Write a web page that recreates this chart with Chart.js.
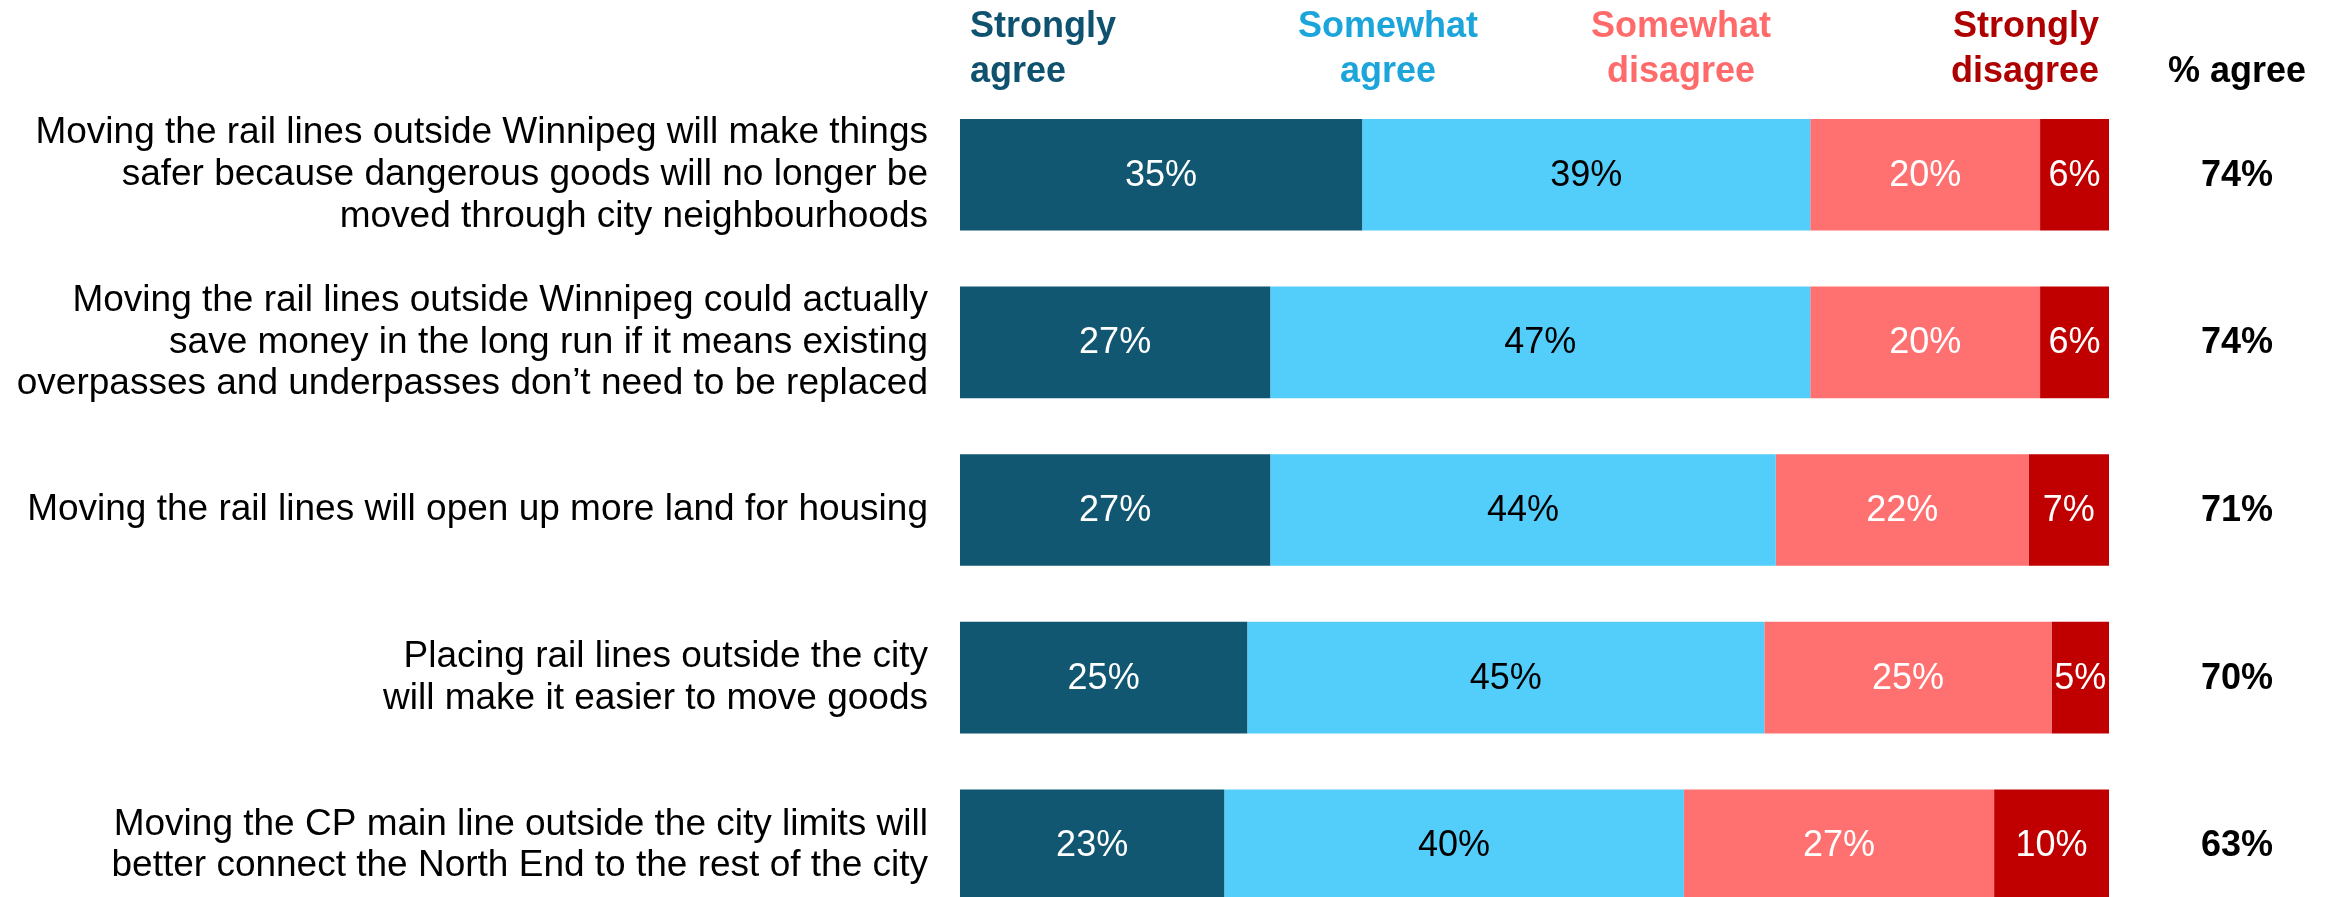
<!DOCTYPE html>
<html>
<head>
<meta charset="utf-8">
<script src="https://cdn.jsdelivr.net/npm/chart.js@4"></script>
<style>
  html, body { margin: 0; padding: 0; background: #ffffff; overflow: hidden; }
  #wrap { position: relative; width: 2333px; height: 929px; }
</style>
</head>
<body>
<div id="wrap"><canvas id="c"></canvas></div>
<script>
const categories = [
  ["Moving the rail lines outside Winnipeg will make things", "safer because dangerous goods will no longer be", "moved through city neighbourhoods"],
  ["Moving the rail lines outside Winnipeg could actually", "save money in the long run if it means existing", "overpasses and underpasses don\u2019t need to be replaced"],
  "Moving the rail lines will open up more land for housing",
  ["Placing rail lines outside the city", "will make it easier to move goods"],
  ["Moving the CP main line outside the city limits will", "better connect the North End to the rest of the city"]
];
const seriesNames = [["Strongly", "agree"], ["Somewhat", "agree"], ["Somewhat", "disagree"], ["Strongly", "disagree"]];
const stronglyAgree    = [35, 27, 27, 25, 23];
const somewhatAgree    = [39, 47, 44, 45, 40];
const somewhatDisagree = [20, 20, 22, 25, 27];
const stronglyDisagree = [6, 6, 7, 5, 10];
const percentAgree     = [74, 74, 71, 70, 63];
const agreeHeader = "% agree";

const FONT = "'Liberation Sans', Arial, Helvetica, sans-serif";
const barColors    = ["#115771", "#53CEFB", "#FF7070", "#C00000"];
const headerColors = ["#0F5270", "#1BA5DA", "#FF6B6B", "#AE0000"];
const valueColors  = ["#FFFFFF", "#000000", "#FFFFFF", "#FFFFFF"];

const seriesData = [stronglyAgree, somewhatAgree, somewhatDisagree, stronglyDisagree];

const datasets = seriesData.map((d, i) => ({
  label: seriesNames[i].join(" "),
  data: d,
  backgroundColor: barColors[i],
  borderWidth: 0,
  barPercentage: 0.666,
  categoryPercentage: 1.0
}));

const overlay = {
  id: "overlay",
  afterDatasetsDraw(chart) {
    const ctx = chart.ctx;
    const area = chart.chartArea;
    ctx.save();
    // values inside bars
    ctx.font = "36px " + FONT;
    ctx.textAlign = "center";
    ctx.textBaseline = "middle";
    chart.data.datasets.forEach((ds, i) => {
      const meta = chart.getDatasetMeta(i);
      meta.data.forEach((bar, j) => {
        ctx.fillStyle = valueColors[i];
        const cx = (bar.x + bar.base) / 2;
        ctx.fillText(ds.data[j] + "%", cx, bar.y + 1);
      });
    });
    // % agree column
    const colX = area.right + 128;
    ctx.font = "bold 36px " + FONT;
    ctx.fillStyle = "#000000";
    const meta0 = chart.getDatasetMeta(0);
    meta0.data.forEach((bar, j) => {
      ctx.fillText(percentAgree[j] + "%", colX, bar.y + 1);
    });
    // header
    ctx.textBaseline = "alphabetic";
    const b1 = 37, b2 = 82;
    const headerPos = [
      { align: "left",   x: area.left + 10 },
      { align: "center", x: 1388 },
      { align: "center", x: 1681 },
      { align: "right",  x: area.right - 10 }
    ];
    seriesNames.forEach((lines, i) => {
      ctx.fillStyle = headerColors[i];
      ctx.textAlign = headerPos[i].align;
      ctx.fillText(lines[0], headerPos[i].x, b1);
      ctx.fillText(lines[1], headerPos[i].x, b2);
    });
    ctx.fillStyle = "#000000";
    ctx.textAlign = "center";
    ctx.fillText(agreeHeader, colX, b2);
    ctx.restore();
  }
};

new Chart(document.getElementById("c"), {
  type: "bar",
  data: { labels: categories, datasets: datasets },
  options: {
    indexAxis: "y",
    responsive: true,
    maintainAspectRatio: false,
    animation: false,
    layout: { padding: { top: 91, right: 224, bottom: 0, left: 0 } },
    plugins: {
      legend: { display: false },
      tooltip: { enabled: false },
      title: { display: false }
    },
    scales: {
      x: {
        stacked: true,
        min: 0,
        max: 100,
        display: false
      },
      y: {
        stacked: true,
        grid: { display: false, drawTicks: false },
        border: { display: false },
        afterFit(scale) {
          scale.width = 960;
          scale.paddingTop = 0;
          scale.paddingBottom = 0;
        },
        ticks: {
          autoSkip: false,
          padding: 32,
          color: "#000000",
          font: { family: FONT, size: 37, lineHeight: 1.125 }
        }
      }
    }
  },
  plugins: [overlay]
});
</script>
</body>
</html>
